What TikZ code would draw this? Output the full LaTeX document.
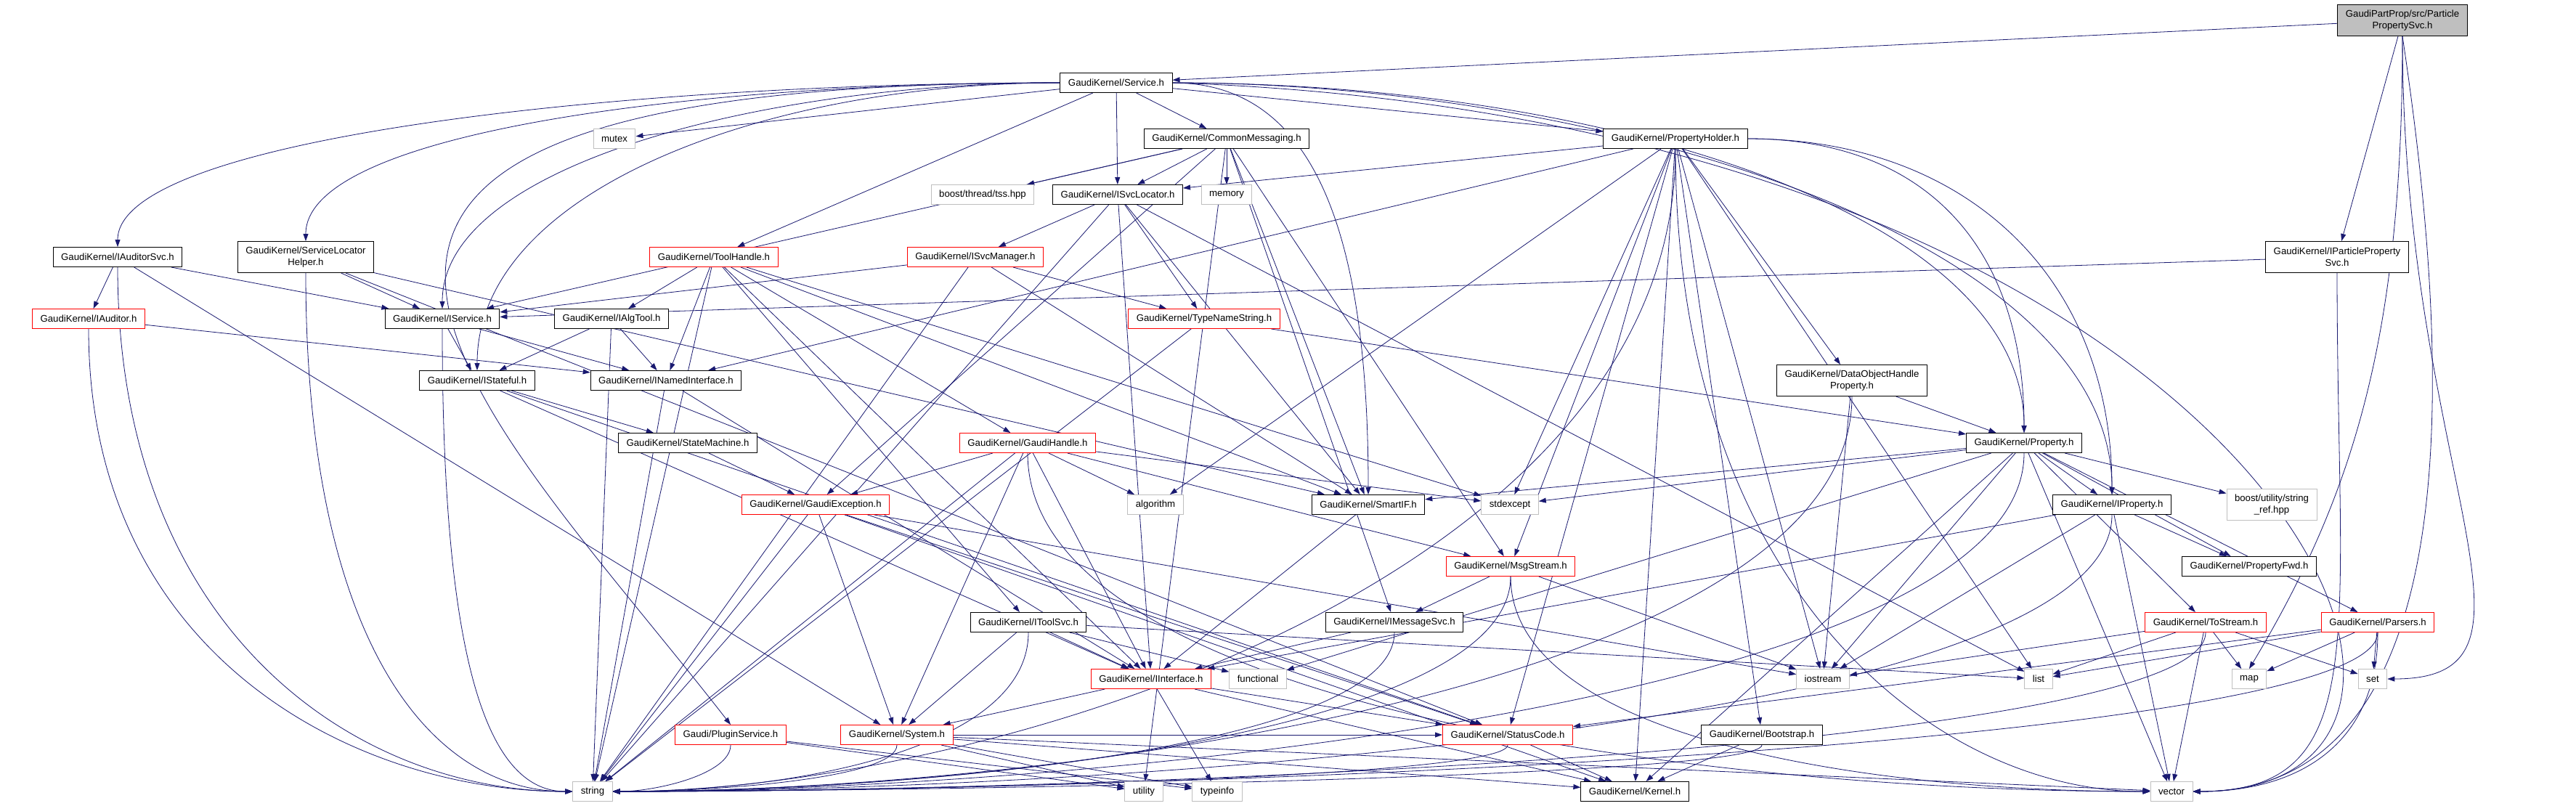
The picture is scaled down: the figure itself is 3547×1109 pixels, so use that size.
\documentclass[tikz,border=0pt]{standalone}
\usepackage{fontspec}
\setmainfont{Liberation Sans}
\usetikzlibrary{arrows.meta}
\definecolor{edgeblue}{RGB}{25,25,112}
\definecolor{sysgray}{RGB}{191,191,191}
\pgfdeclarelayer{paper}
\pgfdeclarelayer{edges}
\pgfsetlayers{paper,edges,main}

\begin{document}
\begin{tikzpicture}[x=1pt, y=-1pt, font=\fontsize{13.2}{15.7}\selectfont,
  hdr/.style={draw=black, fill=white, line width=1pt, inner xsep=11pt, inner ysep=3pt, minimum height=27pt},
  trunc/.style={hdr, draw=red},
  sys/.style={hdr, draw=sysgray},
  mainfile/.style={hdr, fill=sysgray},
  tall/.style={minimum height=43pt, align=center},
  dep/.style={draw=edgeblue, line width=0.8pt, -{Triangle[length=10pt,width=7pt]}}]
\begin{pgfonlayer}{paper}
\fill[white] (0,0) rectangle (3547,1109);
\end{pgfonlayer}
\useasboundingbox (0,0) rectangle (3547,1109);

\node[mainfile, tall] (root) at (3308,28) {GaudiPartProp/src/Particle\\PropertySvc.h};
\node[hdr] (service) at (1537,114) {GaudiKernel/Service.h};
\node[sys] (mutex) at (846,191) {mutex};
\node[hdr] (cmsg) at (1689,191) {GaudiKernel/CommonMessaging.h};
\node[hdr] (propholder) at (2307,191) {GaudiKernel/PropertyHolder.h};
\node[sys] (tss) at (1353,268) {boost/thread/tss.hpp};
\node[hdr] (isvcloc) at (1539,268) {GaudiKernel/ISvcLocator.h};
\node[sys] (memory) at (1689,268) {memory};
\node[hdr] (iauditorsvc) at (162,354) {GaudiKernel/IAuditorSvc.h};
\node[hdr, tall] (slhelper) at (421,354) {GaudiKernel/ServiceLocator\\Helper.h};
\node[trunc] (toolhandle) at (983,354) {GaudiKernel/ToolHandle.h};
\node[trunc] (isvcmgr) at (1343,354) {GaudiKernel/ISvcManager.h};
\node[hdr, tall] (ipps) at (3218,354) {GaudiKernel/IParticleProperty\\Svc.h};
\node[trunc] (iauditor) at (122,439) {GaudiKernel/IAuditor.h};
\node[hdr] (iservice) at (609,439) {GaudiKernel/IService.h};
\node[hdr] (ialgtool) at (842,439) {GaudiKernel/IAlgTool.h};
\node[trunc] (typename) at (1658,439) {GaudiKernel/TypeNameString.h};
\node[hdr] (istateful) at (657,524) {GaudiKernel/IStateful.h};
\node[hdr] (inamed) at (917,524) {GaudiKernel/INamedInterface.h};
\node[hdr, tall] (dohprop) at (2550,524) {GaudiKernel/DataObjectHandle\\Property.h};
\node[hdr] (statemach) at (947,610) {GaudiKernel/StateMachine.h};
\node[trunc] (ghandle) at (1415,610) {GaudiKernel/GaudiHandle.h};
\node[hdr] (property) at (2787,610) {GaudiKernel/Property.h};
\node[trunc] (gexcept) at (1123,695) {GaudiKernel/GaudiException.h};
\node[sys] (algorithm) at (1591,695) {algorithm};
\node[hdr] (smartif) at (1884,695) {GaudiKernel/SmartIF.h};
\node[sys] (stdexcept) at (2079,695) {stdexcept};
\node[hdr] (iproperty) at (2908,695) {GaudiKernel/IProperty.h};
\node[sys, tall] (stringref) at (3128,695) {boost/utility/string\\\_ref.hpp};
\node[trunc] (msgstream) at (2080,780) {GaudiKernel/MsgStream.h};
\node[hdr] (propfwd) at (3097,780) {GaudiKernel/PropertyFwd.h};
\node[hdr] (itoolsvc) at (1416,857) {GaudiKernel/IToolSvc.h};
\node[hdr] (imsgsvc) at (1920,857) {GaudiKernel/IMessageSvc.h};
\node[trunc] (tostream) at (3037,857) {GaudiKernel/ToStream.h};
\node[trunc] (parsers) at (3274,857) {GaudiKernel/Parsers.h};
\node[trunc] (iinterface) at (1585,935) {GaudiKernel/IInterface.h};
\node[sys] (functional) at (1732,935) {functional};
\node[sys] (iostream) at (2510,935) {iostream};
\node[sys] (list) at (2807,935) {list};
\node[sys] (map) at (3097,935) {map};
\node[sys] (set) at (3267,935) {set};
\node[trunc] (pluginsvc) at (1006,1012) {Gaudi/PluginService.h};
\node[trunc] (system) at (1235,1012) {GaudiKernel/System.h};
\node[trunc] (statuscode) at (2076,1012) {GaudiKernel/StatusCode.h};
\node[hdr] (bootstrap) at (2426,1012) {GaudiKernel/Bootstrap.h};
\node[sys] (string) at (816,1090) {string};
\node[sys] (utility) at (1575,1090) {utility};
\node[sys] (typeinfo) at (1676,1090) {typeinfo};
\node[hdr] (kernel) at (2251,1090) {GaudiKernel/Kernel.h};
\node[sys] (vector) at (2990,1090) {vector};

\begin{pgfonlayer}{edges}
\foreach \a/\b in {root/service, root/ipps,
  service/mutex, service/toolhandle, service/isvcloc, service/cmsg, service/propholder,
  cmsg/tss, cmsg/isvcloc, cmsg/memory, cmsg/iservice, cmsg/gexcept, cmsg/smartif,
  cmsg/msgstream, cmsg/imsgsvc, cmsg/utility,
  propholder/isvcloc, propholder/inamed, propholder/algorithm, propholder/stdexcept,
  propholder/msgstream, propholder/statuscode, propholder/iostream,
  propholder/bootstrap, propholder/dohprop, propholder/list, propholder/kernel,
  ipps/iservice,
  iauditorsvc/iservice, iauditorsvc/iauditor, iauditorsvc/system,
  slhelper/iservice, slhelper/smartif, slhelper/statuscode,
  toolhandle/string, toolhandle/ialgtool, toolhandle/inamed, toolhandle/itoolsvc,
  toolhandle/ghandle, toolhandle/stdexcept, toolhandle/smartif, toolhandle/iinterface,
  ialgtool/istateful, ialgtool/string, ialgtool/inamed,
  iservice/inamed, iservice/istateful,
  istateful/iinterface, istateful/statemach, istateful/statuscode,
  inamed/iinterface, inamed/string,
  iauditor/inamed,
  isvcloc/string, isvcloc/isvcmgr, isvcloc/iinterface, isvcloc/typename, isvcloc/smartif, isvcloc/list,
  isvcmgr/iservice, isvcmgr/typename, isvcmgr/smartif, isvcmgr/string,
  typename/property, typename/string,
  statemach/gexcept,
  ghandle/gexcept, ghandle/system, ghandle/iinterface, ghandle/algorithm, ghandle/string,
  ghandle/stdexcept, ghandle/msgstream,
  gexcept/string, gexcept/system, gexcept/statuscode, gexcept/kernel, gexcept/iostream,
  property/smartif, property/stdexcept, property/iproperty, property/propfwd, property/stringref,
  property/tostream, property/parsers, property/iostream, property/vector,
  property/functional, property/kernel,
  iproperty/iinterface, iproperty/iostream, iproperty/vector, iproperty/propfwd,
  dohprop/property, dohprop/iostream,
  smartif/iinterface,
  msgstream/imsgsvc, msgstream/iostream,
  imsgsvc/iinterface,
  itoolsvc/system, itoolsvc/iinterface, itoolsvc/functional, itoolsvc/list,
  iinterface/system, iinterface/statuscode, iinterface/kernel, iinterface/typeinfo,
  tostream/iostream, tostream/list, tostream/vector, tostream/map, tostream/set,
  parsers/list, parsers/map, parsers/set, parsers/statuscode,
  pluginsvc/utility, pluginsvc/typeinfo,
  system/kernel, system/statuscode, system/typeinfo, system/vector, system/utility,
  statuscode/kernel,
  bootstrap/kernel}
  \draw[dep] (\a) -- (\b);
\foreach \a/\b/\v/\h in {iauditorsvc/string/500/300, iauditor/string/450/300,
  slhelper/string/500/200, iservice/string/450/120,
  propholder/vector/600/300, ghandle/vector/350/600, msgstream/vector/220/400}
  \draw[dep] (\a.south) .. controls +(0,\v) and +(-\h,0) .. (\b.west);
\foreach \a/\b/\v/\h in {propholder/string/600/500, property/string/350/600,
  iproperty/string/300/600, dohprop/string/400/600, msgstream/string/220/450,
  imsgsvc/string/160/400, itoolsvc/string/160/250, tostream/string/160/700,
  parsers/string/160/700, pluginsvc/string/40/60, system/string/45/150,
  statuscode/string/45/400, bootstrap/string/45/400,
  root/set/600/250, ipps/vector/500/250, parsers/vector/150/150}
  \draw[dep] (\a.south) .. controls +(0,\v) and +(\h,0) .. (\b.east);
\foreach \a/\b/\h/\v in {service/iauditorsvc/600/150, service/slhelper/500/150,
  service/istateful/400/250, service/iservice/400/200}
  \draw[dep] (\a.west) .. controls +(-\h,0) and +(0,-\v) .. (\b.north);
\foreach \a/\b/\h/\v in {service/smartif/200/350, service/property/600/300,
  service/iproperty/600/350, propholder/property/250/250, propholder/iproperty/300/300}
  \draw[dep] (\a.east) .. controls +(\h,0) and +(0,-\v) .. (\b.north);
\draw[dep] (service.west) .. controls +(-1300,0) and +(-350,-450) .. (pluginsvc.north);
\draw[dep] (root.south) .. controls +(0,400) and +(150,-250) .. (map.north);
\draw[dep] (root.south) .. controls +(60,400) and +(400,0) .. (vector.east);
\draw[dep] (service.east) .. controls +(1500,50) and +(500,0) .. (vector.east);
\end{pgfonlayer}
\end{tikzpicture}
\end{document}
